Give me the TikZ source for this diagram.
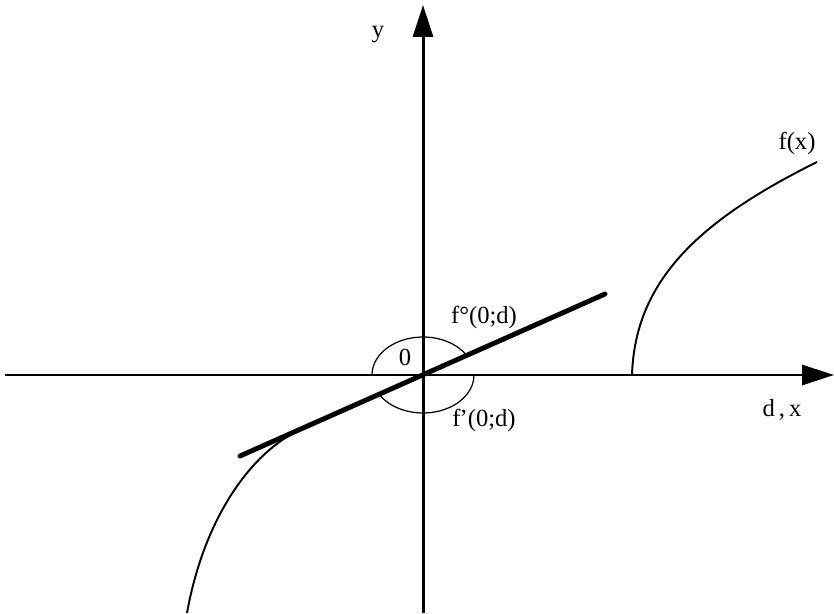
\documentclass[tikz,border=0pt]{standalone}
\usepackage{fontspec}
\setmainfont{Liberation Serif}
\usetikzlibrary{arrows.meta}

\begin{document}
\begin{tikzpicture}[
  x=0.02cm, y=0.02cm,
  axis/.style={line width=1.7pt, -{Triangle[length=0.64cm, width=0.4cm]}},
  tangent/.style={line width=2.8pt},
  graph/.style={line width=1.1pt},
  cone/.style={line width=0.7pt},
  lbl/.style={font=\fontsize{14}{16}\selectfont, inner sep=0pt}
]
  \useasboundingbox (0,0) rectangle (834,613);

  % axes
  \coordinate (O) at (423,238);
  \coordinate (xstart) at (5,238);
  \coordinate (xend) at (834,238);
  \coordinate (ystart) at (423,0);
  \coordinate (yend) at (423,608);
  \draw[axis] (xstart) -- (xend);
  \draw[axis] (ystart) -- (yend);

  % tangent line through the origin
  \coordinate (tleft) at (240,157);
  \coordinate (tright) at (605,319);
  \draw[tangent, line cap=round] (tleft) -- (tright);

  % graph of f
  \coordinate (lowstart) at (187,0);
  \coordinate (touch) at (300,183);
  \draw[graph] (lowstart) .. controls (205,100) and (255,163) .. (touch) -- (O);
  \coordinate (rstart) at (632,238);
  \coordinate (rend) at (817,451);
  \draw[graph] (rstart) .. controls (635,333) and (700,393) .. (rend);

  % arcs
  \draw[cone] (O) ++(180:51 and 38) arc[start angle=180, end angle=31, x radius=51, y radius=38];
  \draw[cone] (O) ++(211:51 and 38) arc[start angle=211, end angle=360, x radius=51, y radius=38];

  % labels
  \node[lbl] (ylabel) at (378,578) {y};
  \node[lbl] (xlabel) at (782,203) {d\,,\,x};
  \node[lbl] (flabel) at (797,470) {f(x)};
  \node[lbl] (upper) at (484,296) {f°(0;d)};
  \node[lbl] (lower) at (484,193) {f\kern-0.5pt’(0;d)};
  \node[lbl] (zero) at (405,256) {0};
\end{tikzpicture}
\end{document}
